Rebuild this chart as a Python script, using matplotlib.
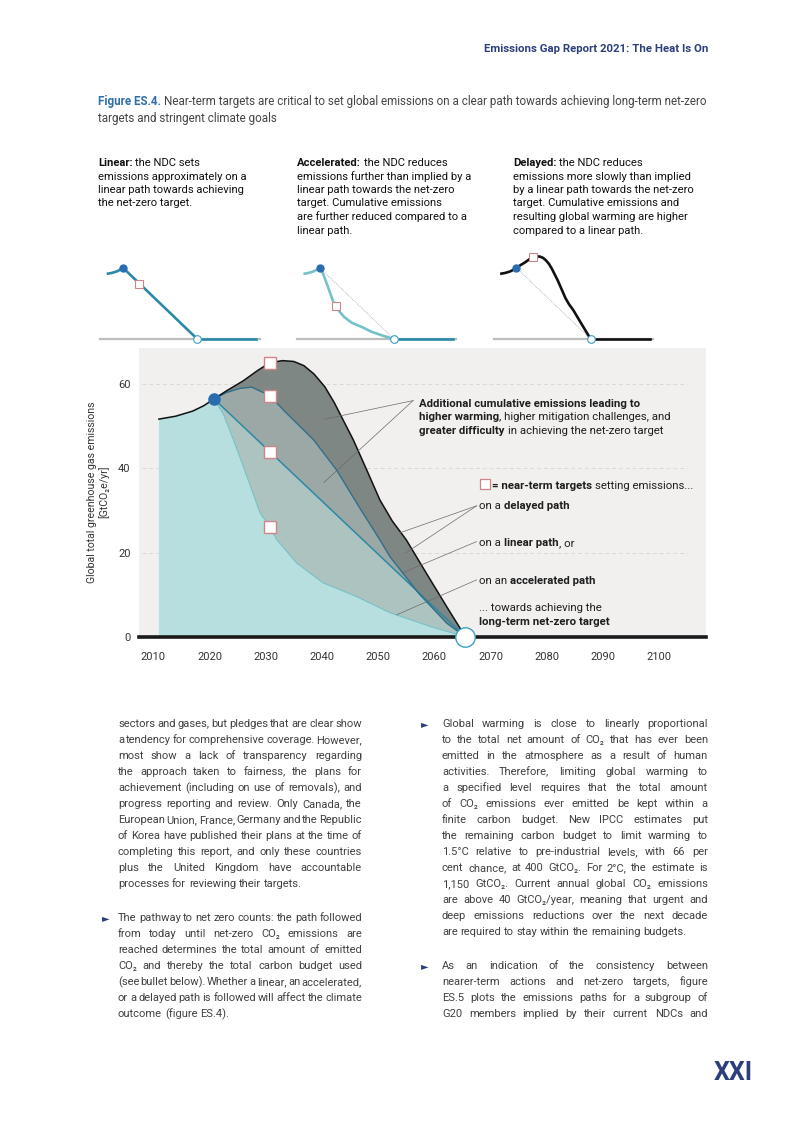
import matplotlib
matplotlib.use('Agg')
import matplotlib.pyplot as plt
import matplotlib.transforms as mtransforms
from matplotlib.patches import Rectangle

plt.rcParams['font.family'] = ['Roboto', 'DejaVu Sans']

W, H = 793, 1122

# --- data (GtCO2e/yr) ---
hist_years = [2011, 2014, 2017, 2019, 2020.8]
hist_vals = [51.7, 52.4, 53.6, 54.9, 56.5]
now_year, now_val = 2020.8, 56.5
net_zero_year = 2065.5
end_year = 2101

linear_years = [2020.8, 2065.5]
linear_vals = [56.5, 0]

accel_years = [2020.8, 2022.5, 2024.2, 2026.0, 2029.0, 2030.7, 2032.0, 2035.5, 2040.2, 2046.2, 2052.1, 2059.3, 2065.5]
accel_vals = [56.5, 52.8, 47.0, 40.5, 29.4, 26.1, 23.0, 17.5, 12.8, 9.5, 5.7, 2.4, 0]

mid_years = [2020.8, 2023.0, 2025.4, 2027.5, 2030.7, 2033.7, 2038.5, 2042.6, 2046.2, 2050.3, 2052.1, 2057.2, 2062.2, 2065.5]
mid_vals = [56.5, 58.0, 59.0, 59.3, 57.3, 53.1, 46.8, 39.6, 31.7, 23.0, 19.0, 10.3, 3.2, 0]

high_years = [2020.8, 2023.0, 2026.0, 2028.5, 2030.7, 2033.0, 2035.0, 2036.8, 2038.6, 2040.5, 2042.2, 2043.8, 2045.6,
              2048.0, 2050.3, 2052.5, 2055.0, 2058.6, 2062.2, 2065.5]
high_vals = [56.5, 58.4, 60.8, 63.2, 65.1, 65.6, 65.4, 64.4, 62.4, 59.4, 55.6, 51.4, 46.7,
             39.5, 32.5, 27.5, 23.0, 15.0, 7.1, 0]

target_year = 2030.7
target_vals = [65.1, 57.3, 43.8, 26.1]

x_ticks = list(range(2010, 2101, 10))
y_ticks = [0, 20, 40, 60]

# colours
TEAL_LIGHT = '#b8dfdf'
ACC_FILL = '#adc3c0'
LIN_FILL = '#9ca8a5'
DEL_FILL = '#7e8784'
ACC_LINE = '#74c2c8'
LIN_LINE = '#2b89a8'
MID_LINE = '#2f6f8a'
DOT = '#2a6cb0'
SQ_EDGE = '#d0848a'
NAVY = '#2c3e7b'
BODY = '#404040'

fig = plt.figure(figsize=(W / 100, H / 100), dpi=100)
px = mtransforms.Affine2D().scale(1 / W, -1 / H).translate(0, 1) + fig.transFigure
rend = fig.canvas.get_renderer()


def box(x0, y0, x1, y1):
    return [x0 / W, 1 - y1 / H, (x1 - x0) / W, (y1 - y0) / H]


def width(s, size, weight='normal'):
    t = fig.text(0, 0, s, fontsize=size, fontweight=weight)
    w = t.get_window_extent(rend).width
    t.remove()
    return w


def runs(x, y, parts, size):
    # parts: (text, weight, colour); y is the baseline in page pixels
    for s, weight, col in parts:
        sp = width('x x', size, weight) - width('xx', size, weight)
        x += (len(s) - len(s.lstrip(' '))) * sp
        core = s.strip(' ')
        if core:
            t = fig.text(x, y, core, transform=px, fontsize=size, fontweight=weight,
                         color=col, va='baseline')
            x += t.get_window_extent(rend).width
        x += (len(s) - len(s.rstrip(' '))) * sp
    return x


def justify(x0, x1, y, line, size, last=False):
    words = line.split()
    objs = [fig.text(0, y, w, transform=px, fontsize=size, color=BODY, va='baseline')
            for w in words]
    ws = [o.get_window_extent(rend).width for o in objs]
    sp = width('x x', size) - width('xx', size)
    gap = sp if (last or len(words) < 2) else (x1 - x0 - sum(ws)) / (len(words) - 1)
    x = x0
    for o, w in zip(objs, ws):
        o.set_x(x)
        x += w + gap


def paragraph(x0, x1, y, lines, size, step=16, bullet=None, ends=True):
    if bullet is not None:
        fig.text(bullet, y, '\u25ba', transform=px, fontsize=7, color=NAVY,
                 va='baseline', family='DejaVu Sans')
    for i, line in enumerate(lines):
        justify(x0, x1, y + i * step, line, size, last=(ends and i == len(lines) - 1))


# --- header and caption ---
fig.text(708, 52, 'Emissions Gap Report 2021: The Heat Is On', transform=px, ha='right',
         va='baseline', fontsize=8.2, fontweight='bold', color=NAVY)
runs(98, 105, [('Figure ES.4.', 'bold', '#2f6ea8'),
               (' Near-term targets are critical to set global emissions on a clear path towards achieving long-term net-zero',
                'normal', '#444444')], 8.35)
runs(98, 122, [('targets and stringent climate goals', 'normal', '#444444')], 8.35)

# --- three small explanatory panels ---
panel_text = [
    [[('Linear:', 'bold', '#111'), (' the NDC sets', 'normal', '#111')],
     'emissions approximately on a', 'linear path towards achieving', 'the net-zero target.'],
    [[('Accelerated:', 'bold', '#111'), (' the NDC reduces', 'normal', '#111')],
     'emissions further than implied by a', 'linear path towards the net-zero',
     'target. Cumulative emissions', 'are further reduced compared to a', 'linear path.'],
    [[('Delayed:', 'bold', '#111'), (' the NDC reduces', 'normal', '#111')],
     'emissions more slowly than implied', 'by a linear path towards the net-zero',
     'target. Cumulative emissions and', 'resulting global warming are higher',
     'compared to a linear path.'],
]
panel_x = [98, 297, 513]
for tx, lines in zip(panel_x, panel_text):
    for i, ln in enumerate(lines):
        parts = ln if isinstance(ln, list) else [(ln, 'normal', '#111')]
        runs(tx, 166 + i * 13.5, parts, 8.1)

panel_paths = [
    (hist_years + linear_years[1:], hist_vals + linear_vals[1:], LIN_LINE, LIN_LINE, target_vals[2], False),
    (hist_years + accel_years[1:], hist_vals + accel_vals[1:], ACC_LINE, LIN_LINE, target_vals[3], True),
    (hist_years + high_years[1:], hist_vals + high_vals[1:], '#111111', '#111111', target_vals[0], True),
]
for k, (xs, ys, col, flat_col, tv, ref) in enumerate(panel_paths):
    off = 196.7 * k
    pa = fig.add_axes(box(100.4 + off, 250.8, 259.6 + off, 339))
    pa.set_xlim(2007.2, 2103)
    pa.set_ylim(0, 70)
    pa.axis('off')
    pa.axhline(0, color='#bdbdbd', lw=1.6, zorder=1, clip_on=False)
    if ref:
        pa.plot(linear_years, linear_vals, color='#8a8a8a', lw=0.5, ls=(0, (1, 1.5)), zorder=2)
    pa.plot(xs, ys, color=col, lw=1.9, zorder=3, solid_capstyle='butt', solid_joinstyle='round')
    pa.plot([net_zero_year, end_year], [0, 0], color=flat_col, lw=1.9, zorder=3, clip_on=False)
    pa.plot([now_year], [now_val], 'o', ms=5, color=DOT, zorder=4)
    pa.plot([target_year], [tv], 's', ms=5.5, mfc='white', mec=SQ_EDGE, mew=0.8, zorder=4)
    pa.plot([net_zero_year], [0], 'o', ms=5.5, mfc='white', mec='#3a9fbf', mew=0.8,
            zorder=5, clip_on=False)

# --- main chart ---
ax = fig.add_axes(box(139, 348, 706, 636.7))
ax.set_facecolor('#f1f0ef')
ax.set_xlim(2007.46, 2108.3)
ax.set_ylim(0, 68.6)
for s in ax.spines.values():
    s.set_visible(False)
ax.hlines(y_ticks[1:], 2008, 2105, colors='#d9d9d9', lw=0.7, linestyles=(0, (4, 3)), zorder=1)

ax.fill(hist_years + accel_years[1:] + [hist_years[0]],
        hist_vals + accel_vals[1:] + [0], color=TEAL_LIGHT, lw=0, zorder=2)
ax.fill(accel_years + linear_years[::-1], accel_vals + linear_vals[::-1],
        color=ACC_FILL, lw=0, zorder=2)
ax.fill(linear_years + mid_years[::-1], linear_vals + mid_vals[::-1],
        color=LIN_FILL, lw=0, zorder=2)
ax.fill(mid_years + high_years[::-1], mid_vals + high_vals[::-1],
        color=DEL_FILL, lw=0, zorder=2)

ax.plot(accel_years, accel_vals, color=ACC_LINE, lw=0.8, zorder=3)
ax.plot(linear_years, linear_vals, color=LIN_LINE, lw=1.1, zorder=3)
ax.plot(mid_years, mid_vals, color=MID_LINE, lw=1.0, zorder=3)
ax.plot(hist_years + high_years[1:], hist_vals + high_vals[1:], color='#111111', lw=1.1,
        zorder=3, solid_joinstyle='round')

ax.axhline(0, color='#1a1a1a', lw=2.6, zorder=4, clip_on=False)

# annotation pointers
pointers = [((2056.2, 56.1), (2040.5, 51.7)), ((2056.2, 56.1), (2040.3, 36.6)),
            ((2067.5, 31.1), (2053.9, 24.7)), ((2067.5, 31.1), (2054.8, 19.8)),
            ((2067.5, 22.6), (2054.2, 15.1)), ((2067.5, 13.5), (2053.3, 5.2))]
for (x0, y0), (x1, y1) in pointers:
    ax.plot([x0, x1], [y0, y1], color='#6a6a6a', lw=0.5, zorder=5)

ax.plot([now_year], [now_val], 'o', ms=8, color=DOT, zorder=6)
ax.plot([target_year] * len(target_vals), target_vals, 's', ms=8.5, mfc='white',
        mec=SQ_EDGE, mew=1.0, zorder=6)
ax.plot([net_zero_year], [0], 'o', ms=14, mfc='white', mec='#3ba2c2', mew=1.0,
        zorder=7, clip_on=False)

ax.set_xticks(x_ticks)
ax.set_yticks(y_ticks)
ax.tick_params(length=0, labelsize=8, colors='#333333')
ax.tick_params(axis='x', pad=11)
ax.tick_params(axis='y', pad=6)

fig.text(92, 492, 'Global total greenhouse gas emissions', transform=px, rotation=90,
         ha='center', va='center', fontsize=7.6, color='#333333')
fig.text(104, 492, '[GtCO\u2082e/yr]', transform=px, rotation=90,
         ha='center', va='center', fontsize=7.6, color='#333333')


def at(x, y):
    # data point -> page pixel (baseline a little below the visual centre)
    dx, dy = ax.transData.transform((x, y))
    return dx, H - dy + 3.8


DARK = '#1e1e1e'
N, B = 'normal', 'bold'
ann = [
    ((2057.3, 55.6), [('Additional cumulative emissions leading to', B, DARK)]),
    ((2057.3, 52.3), [('higher warming', B, DARK), (', higher mitigation challenges, and', N, DARK)]),
    ((2057.3, 49.0), [('greater difficulty', B, DARK), (' in achieving the net-zero target', N, DARK)]),
    ((2068.0, 31.2), [('on a ', N, DARK), ('delayed path', B, DARK)]),
    ((2068.0, 22.4), [('on a ', N, DARK), ('linear path', B, DARK), (', or', N, DARK)]),
    ((2068.0, 13.4), [('on an ', N, DARK), ('accelerated path', B, DARK)]),
    ((2068.0, 7.0), [('... towards achieving the', N, DARK)]),
    ((2068.0, 3.8), [('long-term net-zero target', B, DARK)]),
]
for (x, y), parts in ann:
    runs(*at(x, y), parts, 8.2)

lx, ly = at(2068.0, 36.0)
fig.patches.append(Rectangle((lx + 0.5, ly - 9.5), 10, 10, transform=px, figure=fig,
                             facecolor='white', edgecolor=SQ_EDGE, lw=0.9))
runs(lx + 13, ly, [('= near-term targets', B, DARK), (' setting emissions...', N, DARK)], 8.2)

# --- body text ---
left_p1 = [
    'sectors and gases, but pledges that are clear show',
    'a tendency for comprehensive coverage. However,',
    'most show a lack of transparency regarding',
    'the approach taken to fairness, the plans for',
    'achievement (including on use of removals), and',
    'progress reporting and review. Only Canada, the',
    'European Union, France, Germany and the Republic',
    'of Korea have published their plans at the time of',
    'completing this report, and only these countries',
    'plus the United Kingdom have accountable',
    'processes for reviewing their targets.',
]
left_p2 = [
    'The pathway to net zero counts: the path followed',
    'from today until net-zero CO\u2082 emissions are',
    'reached determines the total amount of emitted',
    'CO\u2082 and thereby the total carbon budget used',
    '(see bullet below). Whether a linear, an accelerated,',
    'or a delayed path is followed will affect the climate',
    'outcome (figure ES.4).',
]
right_p1 = [
    'Global warming is close to linearly proportional',
    'to the total net amount of CO\u2082 that has ever been',
    'emitted in the atmosphere as a result of human',
    'activities. Therefore, limiting global warming to',
    'a specified level requires that the total amount',
    'of CO\u2082 emissions ever emitted be kept within a',
    'finite carbon budget. New IPCC estimates put',
    'the remaining carbon budget to limit warming to',
    '1.5\u00b0C relative to pre-industrial levels, with 66 per',
    'cent chance, at 400 GtCO\u2082. For 2\u00b0C, the estimate is',
    '1,150 GtCO\u2082. Current annual global CO\u2082 emissions',
    'are above 40 GtCO\u2082/year, meaning that urgent and',
    'deep emissions reductions over the next decade',
    'are required to stay within the remaining budgets.',
]
right_p2 = [
    'As an indication of the consistency between',
    'nearer-term actions and net-zero targets, figure',
    'ES.5 plots the emissions paths for a subgroup of',
    'G20 members implied by their current NDCs and',
]

# largest size at which every justified line still fits its column
# with word gaps no narrower than about half a normal space
sp10 = width('x x', 10) - width('xx', 10)
fit = []
for lines, colw, ends in [(left_p1, 244, True), (left_p2, 244, True),
                          (right_p1, 266, True), (right_p2, 266, False)]:
    for ln in (lines[:-1] if ends else lines):
        n_gaps = len(ln.split()) - 1
        fit.append(colw / (width(ln, 10) - 0.5 * sp10 * n_gaps))
body_size = 10 * min(fit) * 0.995

paragraph(118, 362, 727, left_p1, body_size)
paragraph(118, 362, 921, left_p2, body_size, bullet=102)
paragraph(442, 708, 727, right_p1, body_size, bullet=421)
paragraph(442, 708, 969, right_p2, body_size, bullet=421, ends=False)

fig.text(753, 1080, 'XXI', transform=px, ha='right', va='baseline', fontsize=18,
         fontweight='bold', color=NAVY)

fig.savefig('out.png', dpi=100)
